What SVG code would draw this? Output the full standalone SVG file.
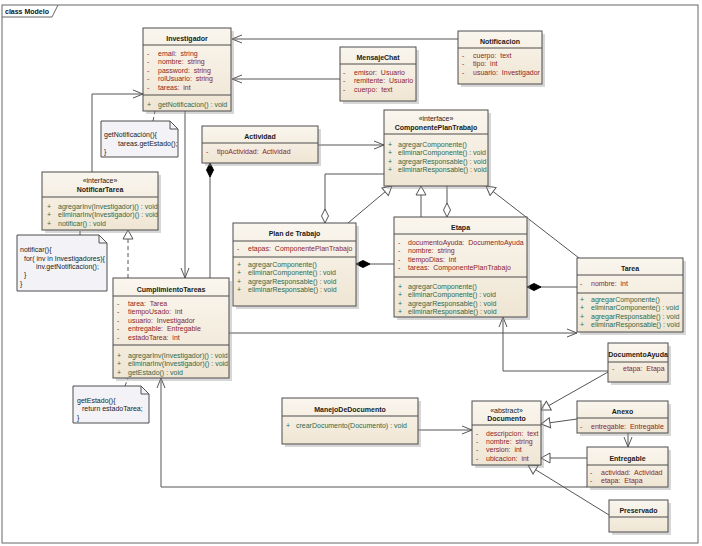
<svg xmlns="http://www.w3.org/2000/svg" width="702" height="546" viewBox="0 0 702 546">
<defs>
<linearGradient id="g" x1="0" y1="0" x2="0" y2="1">
<stop offset="0" stop-color="#faf6ee"/>
<stop offset="1" stop-color="#efe5d3"/>
</linearGradient>
<marker id="arr" viewBox="0 -5 11 10" markerWidth="11" markerHeight="10" refX="10" refY="0" orient="auto" markerUnits="userSpaceOnUse">
<path d="M0,-4 L10,0 L0,4" fill="none" stroke="#555" stroke-width="1"/>
</marker>
<marker id="tri" viewBox="-1 -6 11 12" markerWidth="11" markerHeight="12" refX="9" refY="0" orient="auto" markerUnits="userSpaceOnUse">
<path d="M0,-5 L9,0 L0,5 Z" fill="#fff" stroke="#555" stroke-width="1"/>
</marker>
<marker id="dia" viewBox="-1 -5 16 10" markerWidth="16" markerHeight="10" refX="0" refY="0" orient="auto" markerUnits="userSpaceOnUse">
<path d="M0,0 L7,-3.5 L14,0 L7,3.5 Z" fill="#000" stroke="#000" stroke-width="1"/>
</marker>
<marker id="hdia" viewBox="-1 -5 16 10" markerWidth="16" markerHeight="10" refX="0" refY="0" orient="auto" markerUnits="userSpaceOnUse">
<path d="M0,0 L7,-3.5 L14,0 L7,3.5 Z" fill="#fff" stroke="#555" stroke-width="1"/>
</marker>
</defs>
<style>
text{font-family:"Liberation Sans",Arial,sans-serif;font-size:7px}
.t{font-weight:bold;text-anchor:middle;fill:#1a1a1a}
.s{text-anchor:middle;fill:#1a1a1a}
.a{fill:#8c1f1f}
.m{fill:#2f6a4a}
.n{fill:#222}
.box{fill:url(#g);stroke:#4d4d4d;stroke-width:1}
.sh{fill:#9a9a9a;opacity:0.4}
.sep{stroke:#4d4d4d;stroke-width:1}
.note{fill:#f3f3f7;stroke:#4d4d4d;stroke-width:1}
.c{fill:none;stroke:#555;stroke-width:1}
.d{stroke-dasharray:4,3}
</style>
<rect width="702" height="546" fill="#fff"/>
<g id="frame">
<rect x="2" y="5" width="696" height="538" fill="none" stroke="#666" stroke-width="1"/>
<path d="M2,17 H52 L58,5" fill="none" stroke="#666" stroke-width="1"/>
<text x="5" y="14" style="font-weight:bold" fill="#111">class Modelo</text>
</g>
<g id="connectors">
<path class="c" d="M458,39 L232,39" marker-end="url(#arr)"/>
<path class="c" d="M340,79 L232,79" marker-end="url(#arr)"/>
<path class="c" d="M92,172 L92,94 L143,94" marker-end="url(#arr)"/>
<path class="c" d="M185,111 L185,278" marker-end="url(#arr)"/>
<path class="c d" d="M153,121 L155,111"/>
<path class="c d" d="M80,235 L80,230"/>
<path class="c d" d="M128,278 L128,230" marker-end="url(#tri)"/>
<path class="c d" d="M125,386 L128,378"/>
<path class="c" d="M210,163 L210,278" marker-start="url(#dia)"/>
<path class="c" d="M318,145 L384,145" marker-end="url(#arr)"/>
<path class="c" d="M229,333 L577,333" marker-end="url(#arr)"/>
<path class="c" d="M587,487 L161,487 L161,378" marker-end="url(#arr)"/>
<path class="c" d="M325,223 L325,174 L384,174" marker-start="url(#hdia)"/>
<path class="c" d="M348,223 L392,186" marker-end="url(#tri)"/>
<path class="c" d="M421,217 L421,186" marker-end="url(#tri)"/>
<path class="c" d="M447,217 L447,186" marker-start="url(#hdia)"/>
<path class="c" d="M579,258 L486,186" marker-end="url(#tri)"/>
<path class="c" d="M356,264 L394,264" marker-start="url(#dia)"/>
<path class="c" d="M527,287 L577,287" marker-start="url(#dia)"/>
<path class="c" d="M608,371 L503,371 L503,317" marker-end="url(#arr)"/>
<path class="c" d="M418,430 L472,430" marker-end="url(#arr)"/>
<path class="c" d="M608,372 L541,410" marker-end="url(#tri)"/>
<path class="c" d="M577,419 L541,424" marker-end="url(#tri)"/>
<path class="c" d="M587,458 L541,458" marker-end="url(#tri)"/>
<path class="c" d="M609,515 L528,465" marker-end="url(#tri)"/>
<path class="c" d="M628,433 L628,447" marker-end="url(#arr)"/>
</g>
<g id="Investigador">
<rect class="sh" x="146" y="31" width="88" height="83"/>
<rect class="box" x="143" y="28" width="88" height="83"/>
<line class="sep" x1="143" y1="45" x2="231" y2="45"/>
<line class="sep" x1="143" y1="95" x2="231" y2="95"/>
<text class="t" x="187" y="40.5">Investigador</text>
<text class="a" x="147" y="55.5">-</text><text class="a" x="158" y="55.5">email:&#160; string</text>
<text class="a" x="147" y="64">-</text><text class="a" x="158" y="64">nombre:&#160; string</text>
<text class="a" x="147" y="72.5">-</text><text class="a" x="158" y="72.5">password:&#160; string</text>
<text class="a" x="147" y="81">-</text><text class="a" x="158" y="81">rolUsuario:&#160; string</text>
<text class="a" x="147" y="89.5">-</text><text class="a" x="158" y="89.5">tareas:&#160; int</text>
<text class="m" x="147" y="106.5">+</text><text class="m" x="158" y="106.5">getNotificacion() : void</text>
</g>
<g id="Notificacion">
<rect class="sh" x="461" y="34" width="84" height="53"/>
<rect class="box" x="458" y="31" width="84" height="53"/>
<line class="sep" x1="458" y1="48" x2="542" y2="48"/>
<text class="t" x="500" y="43.5">Notificacion</text>
<text class="a" x="462" y="57.5">-</text><text class="a" x="473" y="57.5">cuerpo:&#160; text</text>
<text class="a" x="462" y="66">-</text><text class="a" x="473" y="66">tipo:&#160; int</text>
<text class="a" x="462" y="74.5">-</text><text class="a" x="473" y="74.5">usuario:&#160; Investigador</text>
</g>
<g id="MensajeChat">
<rect class="sh" x="343" y="50" width="76" height="54"/>
<rect class="box" x="340" y="47" width="76" height="54"/>
<line class="sep" x1="340" y1="64" x2="416" y2="64"/>
<text class="t" x="378" y="59.5">MensajeChat</text>
<text class="a" x="343" y="74.5">-</text><text class="a" x="354" y="74.5">emisor:&#160; Usuario</text>
<text class="a" x="343" y="83">-</text><text class="a" x="354" y="83">remitente:&#160; Usuario</text>
<text class="a" x="343" y="91.5">-</text><text class="a" x="354" y="91.5">cuerpo:&#160; text</text>
</g>
<g id="Actividad">
<rect class="sh" x="205" y="129" width="116" height="37"/>
<rect class="box" x="202" y="126" width="116" height="37"/>
<line class="sep" x1="202" y1="143" x2="318" y2="143"/>
<text class="t" x="260" y="138.5">Actividad</text>
<text class="a" x="206" y="153.5">-</text><text class="a" x="217" y="153.5">tipoActividad:&#160; Actividad</text>
</g>
<g id="ComponentePlanTrabajo">
<rect class="sh" x="387" y="113" width="104" height="76"/>
<rect class="box" x="384" y="110" width="104" height="76"/>
<line class="sep" x1="384" y1="134" x2="488" y2="134"/>
<text class="s" x="436" y="120.5">«interface»</text>
<text class="t" x="436" y="129.5">ComponentePlanTrabajo</text>
<text class="m" x="388" y="146.5">+</text><text class="m" x="398" y="146.5">agregarComponente()</text>
<text class="m" x="388" y="155">+</text><text class="m" x="398" y="155">eliminarComponente() : void</text>
<text class="m" x="388" y="163.5">+</text><text class="m" x="398" y="163.5">agregarResponsable() : void</text>
<text class="m" x="388" y="172">+</text><text class="m" x="398" y="172">eliminarResponsable() : void</text>
</g>
<g id="NotificarTarea">
<rect class="sh" x="45" y="175" width="116" height="58"/>
<rect class="box" x="42" y="172" width="116" height="58"/>
<line class="sep" x1="42" y1="197" x2="158" y2="197"/>
<text class="s" x="100" y="182.5">«interface»</text>
<text class="t" x="100" y="191.5">NotificarTarea</text>
<text class="m" x="47" y="208.5">+</text><text class="m" x="58" y="208.5">agregarInv(Investigador)() : void</text>
<text class="m" x="47" y="217">+</text><text class="m" x="58" y="217">eliminarInv(Investigador)() : void</text>
<text class="m" x="47" y="225.5">+</text><text class="m" x="58" y="225.5">notificar() : void</text>
</g>
<g id="nota1">
<path class="note" d="M101,121 H170 L178,129 V157 H101 Z"/>
<path class="c" d="M170,121 V129 H178"/>
<text class="n" x="104" y="136.5">getNotificación(){</text>
<text class="n" x="118" y="145.5">tareas.getEstado();</text>
<text class="n" x="104" y="154">}</text>
</g>
<g id="nota2">
<path class="note" d="M17,235 H99 L107,243 V291 H17 Z"/>
<path class="c" d="M99,235 V243 H107"/>
<text class="n" x="20" y="251.5">notificar(){</text>
<text class="n" x="24" y="260.5">for( inv in Investigadores){</text>
<text class="n" x="36" y="268.5">inv.getNotificacion();</text>
<text class="n" x="24" y="277">}</text>
<text class="n" x="20" y="285.5">}</text>
</g>
<g id="nota3">
<path class="note" d="M73,386 H141 L149,394 V423 H73 Z"/>
<path class="c" d="M141,386 V394 H149"/>
<text class="n" x="77" y="402.5">getEstado(){</text>
<text class="n" x="82" y="411">return estadoTarea;</text>
<text class="n" x="77" y="419.5">}</text>
</g>
<g id="PlanDeTrabajo">
<rect class="sh" x="236" y="226" width="123" height="83"/>
<rect class="box" x="233" y="223" width="123" height="83"/>
<line class="sep" x1="233" y1="241" x2="356" y2="241"/>
<line class="sep" x1="233" y1="257" x2="356" y2="257"/>
<text class="t" x="294.5" y="235.5">Plan de Trabajo</text>
<text class="a" x="237" y="250.5">-</text><text class="a" x="248" y="250.5">etapas:&#160; ComponentePlanTrabajo</text>
<text class="m" x="237" y="266.5">+</text><text class="m" x="248" y="266.5">agregarComponente()</text>
<text class="m" x="237" y="275">+</text><text class="m" x="248" y="275">eliminarComponente() : void</text>
<text class="m" x="237" y="283.5">+</text><text class="m" x="248" y="283.5">agregarResponsable() : void</text>
<text class="m" x="237" y="292">+</text><text class="m" x="248" y="292">eliminarResponsable() : void</text>
</g>
<g id="Etapa">
<rect class="sh" x="397" y="220" width="133" height="100"/>
<rect class="box" x="394" y="217" width="133" height="100"/>
<line class="sep" x1="394" y1="234" x2="527" y2="234"/>
<line class="sep" x1="394" y1="277" x2="527" y2="277"/>
<text class="t" x="460.5" y="229.5">Etapa</text>
<text class="a" x="398" y="244.5">-</text><text class="a" x="408" y="244.5">documentoAyuda:&#160; DocumentoAyuda</text>
<text class="a" x="398" y="253">-</text><text class="a" x="408" y="253">nombre:&#160; string</text>
<text class="a" x="398" y="261.5">-</text><text class="a" x="408" y="261.5">tiempoDias:&#160; int</text>
<text class="a" x="398" y="270">-</text><text class="a" x="408" y="270">tareas:&#160; ComponentePlanTrabajo</text>
<text class="m" x="398" y="288.5">+</text><text class="m" x="408" y="288.5">agregarComponente()</text>
<text class="m" x="398" y="297">+</text><text class="m" x="408" y="297">eliminarComponente() : void</text>
<text class="m" x="398" y="305.5">+</text><text class="m" x="408" y="305.5">agregarResponsable() : void</text>
<text class="m" x="398" y="314">+</text><text class="m" x="408" y="314">eliminarResponsable() : void</text>
</g>
<g id="Tarea">
<rect class="sh" x="580" y="261" width="106" height="74"/>
<rect class="box" x="577" y="258" width="106" height="74"/>
<line class="sep" x1="577" y1="275" x2="683" y2="275"/>
<line class="sep" x1="577" y1="293" x2="683" y2="293"/>
<text class="t" x="630" y="270.5">Tarea</text>
<text class="a" x="580" y="285.5">-</text><text class="a" x="591" y="285.5">nombre:&#160; int</text>
<text class="m" x="580" y="301.5">+</text><text class="m" x="591" y="301.5">agregarComponente()</text>
<text class="m" x="580" y="310">+</text><text class="m" x="591" y="310">eliminarComponente() : void</text>
<text class="m" x="580" y="318.5">+</text><text class="m" x="591" y="318.5">agregarResponsable() : void</text>
<text class="m" x="580" y="327">+</text><text class="m" x="591" y="327">eliminarResponsable() : void</text>
</g>
<g id="CumplimientoTareas">
<rect class="sh" x="116" y="281" width="116" height="100"/>
<rect class="box" x="113" y="278" width="116" height="100"/>
<line class="sep" x1="113" y1="296" x2="229" y2="296"/>
<line class="sep" x1="113" y1="345" x2="229" y2="345"/>
<text class="t" x="171" y="291.5">CumplimientoTareas</text>
<text class="a" x="117" y="305.5">-</text><text class="a" x="128" y="305.5">tarea:&#160; Tarea</text>
<text class="a" x="117" y="314">-</text><text class="a" x="128" y="314">tiempoUsado:&#160; int</text>
<text class="a" x="117" y="322.5">-</text><text class="a" x="128" y="322.5">usuario:&#160; Investigador</text>
<text class="a" x="117" y="331">-</text><text class="a" x="128" y="331">entregable:&#160; Entregable</text>
<text class="a" x="117" y="339.5">-</text><text class="a" x="128" y="339.5">estadoTarea:&#160; int</text>
<text class="m" x="117" y="357.5">+</text><text class="m" x="128" y="357.5">agregarInv(Investigador)() : void</text>
<text class="m" x="117" y="366">+</text><text class="m" x="128" y="366">eliminarInv(Investigador)() : void</text>
<text class="m" x="117" y="374.5">+</text><text class="m" x="128" y="374.5">getEstado() : void</text>
</g>
<g id="DocumentoAyuda">
<rect class="sh" x="611" y="346" width="60" height="39"/>
<rect class="box" x="608" y="343" width="60" height="39"/>
<line class="sep" x1="608" y1="362" x2="668" y2="362"/>
<text class="t" x="638" y="356.5">DocumentoAyuda</text>
<text class="a" x="612" y="370.5">-</text><text class="a" x="623" y="370.5">etapa:&#160; Etapa</text>
</g>
<g id="ManejoDeDocumento">
<rect class="sh" x="285" y="401" width="136" height="46"/>
<rect class="box" x="282" y="398" width="136" height="46"/>
<line class="sep" x1="282" y1="416" x2="418" y2="416"/>
<text class="t" x="350" y="411.5">ManejoDeDocumento</text>
<text class="m" x="286" y="427.5">+</text><text class="m" x="296" y="427.5">crearDocumento(Documento) : void</text>
</g>
<g id="Documento">
<rect class="sh" x="475" y="404" width="69" height="64"/>
<rect class="box" x="472" y="401" width="69" height="64"/>
<line class="sep" x1="472" y1="425" x2="541" y2="425"/>
<text class="s" x="506.5" y="412.5">«abstract»</text>
<text class="t" x="506.5" y="420.5">Documento</text>
<text class="a" x="476" y="435.5">-</text><text class="a" x="486" y="435.5">descripcion:&#160; text</text>
<text class="a" x="476" y="444">-</text><text class="a" x="486" y="444">nombre:&#160; string</text>
<text class="a" x="476" y="452">-</text><text class="a" x="486" y="452">version:&#160; int</text>
<text class="a" x="476" y="460.5">-</text><text class="a" x="486" y="460.5">ubicacion:&#160; int</text>
</g>
<g id="Anexo">
<rect class="sh" x="580" y="404" width="91" height="32"/>
<rect class="box" x="577" y="401" width="91" height="32"/>
<line class="sep" x1="577" y1="418" x2="668" y2="418"/>
<text class="t" x="622.5" y="413.5">Anexo</text>
<text class="a" x="580" y="428.5">-</text><text class="a" x="591" y="428.5">entregable:&#160; Entregable</text>
</g>
<g id="Entregable">
<rect class="sh" x="590" y="450" width="81" height="40"/>
<rect class="box" x="587" y="447" width="81" height="40"/>
<line class="sep" x1="587" y1="465" x2="668" y2="465"/>
<text class="t" x="627.5" y="460.5">Entregable</text>
<text class="a" x="590" y="474.5">-</text><text class="a" x="601" y="474.5">actividad:&#160; Actividad</text>
<text class="a" x="590" y="482.5">-</text><text class="a" x="601" y="482.5">etapa:&#160; Etapa</text>
</g>
<g id="Preservado">
<rect class="sh" x="612" y="503" width="59" height="32"/>
<rect class="box" x="609" y="500" width="59" height="32"/>
<line class="sep" x1="609" y1="517" x2="668" y2="517"/>
<text class="t" x="638.5" y="512.5">Preservado</text>
</g>
</svg>
